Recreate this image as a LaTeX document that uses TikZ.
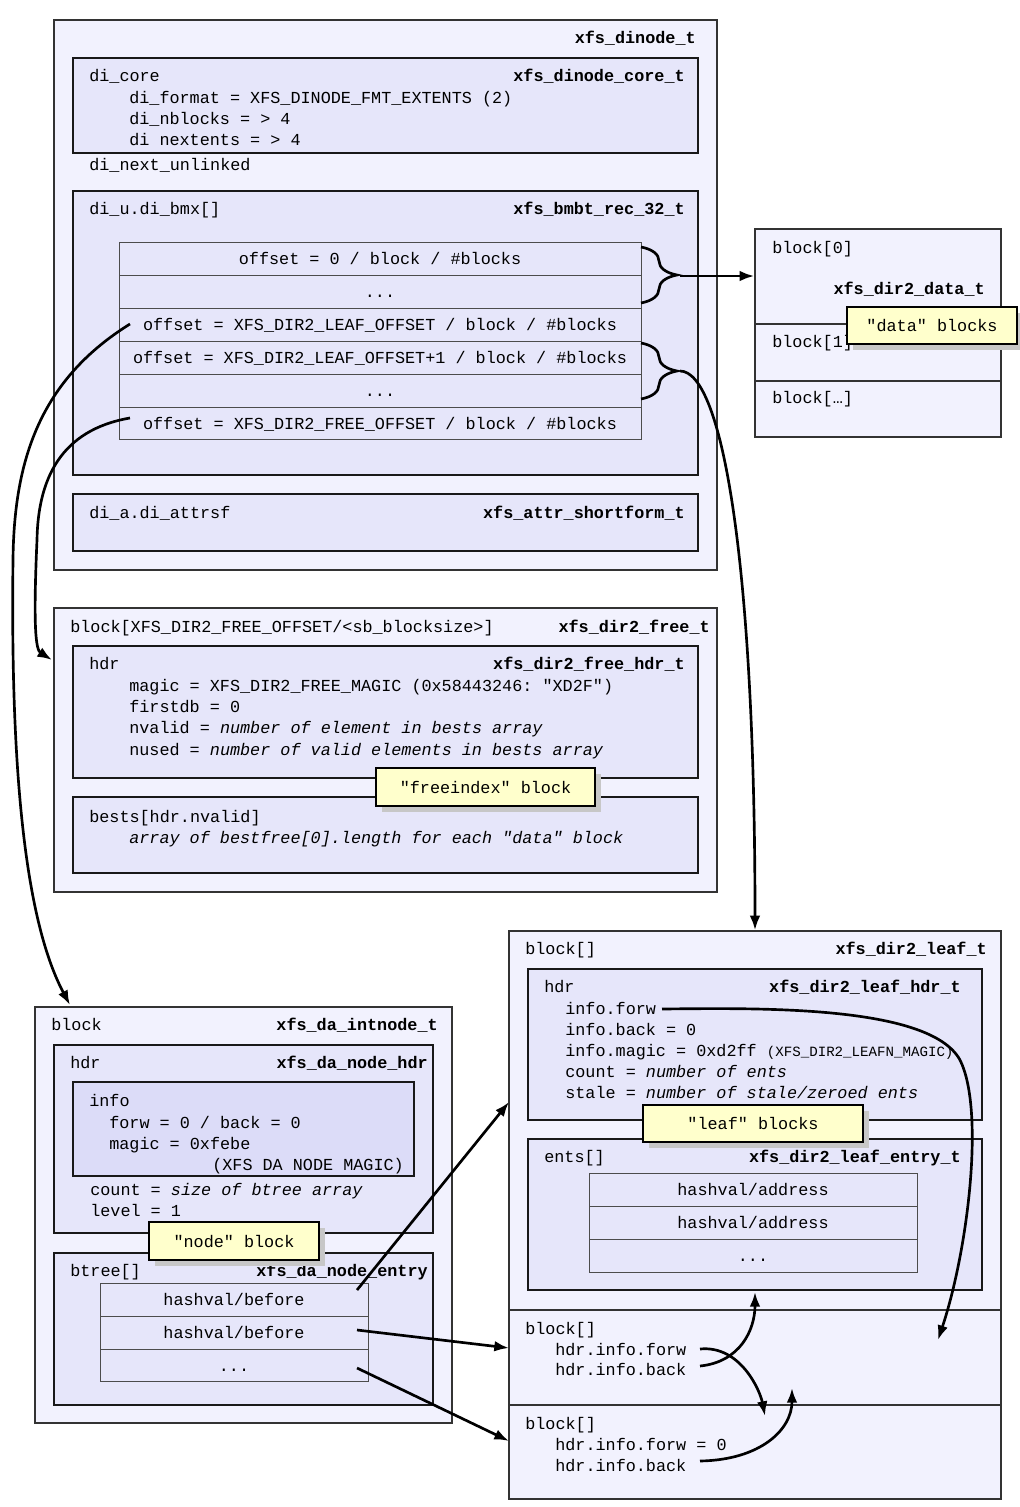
\documentclass[tikz,border=0pt]{standalone}
\usepackage{fontspec}
\setmonofont{Liberation Mono}
\usetikzlibrary{fit,arrows.meta,decorations.pathreplacing}

\definecolor{outerfill}{RGB}{242,242,254}
\definecolor{innerfill}{RGB}{230,230,250}
\definecolor{infofill}{RGB}{220,220,248}
\definecolor{notefill}{RGB}{255,255,204}
\newcommand\fieldfont{\ttfamily\fontsize{12.6}{15}\selectfont}
\newcommand\smallfield{\fontsize{10.6}{12}\selectfont}

\tikzset{
  outerbox/.style={draw=black!80,fill=outerfill,line width=1.1pt,inner sep=0pt},
  innerbox/.style={draw=black!90,fill=innerfill,line width=1.4pt,inner sep=0pt},
  infobox/.style={innerbox,fill=infofill},
  rowbox/.style={draw=black!70,fill=innerfill,line width=0.7pt,inner sep=0pt},
  field/.style={anchor=west,inner sep=0pt,font=\fieldfont,text height=9.5pt,text depth=0pt},
  typename/.style={anchor=east,inner sep=0pt,font=\fieldfont\bfseries,text height=9.5pt,text depth=0pt},
  celltext/.style={anchor=center,inner sep=0pt,font=\fieldfont,text height=9.5pt,text depth=0pt},
  notebox/.style={draw=black,fill=notefill,line width=1.1pt,inner sep=0pt},
  noteshadow/.style={fill=black!22,draw=none,inner sep=0pt},
  link/.style={line width=2pt,-{Latex[length=11pt,width=8pt]}},
  bracket/.style={line width=2pt,decorate,decoration={brace,amplitude=27pt}}
}

\begin{document}
\begin{tikzpicture}[x=0.75pt,y=0.75pt,yscale=-1,xscale=1]
	\useasboundingbox (0,0) rectangle (1020,1507);
	
	% xfs_dinode_t
	\node [outerbox, fit={(54,20) (717,570)}] (dinode) {};
	\node [typename] (dinodeT) at (696,37) {xfs\_dinode\_t};
	\node [innerbox, fit={(73,58) (698,153)}] (core) {};
	\node [field] (coreN) at (89,75) {di\_core};
	\node [typename] (coreT) at (685,75) {xfs\_dinode\_core\_t};
	\node [field] (fmt) at (129,97) {di\_format = XFS\_DINODE\_FMT\_EXTENTS (2)};
	\node [field] (nblocks) at (129,118) {di\_nblocks = > 4};
	\node [field] (nextents) at (129,139) {di nextents = > 4};
	\node [field] (unlinked) at (89,164) {di\_next\_unlinked};
	
	\node [innerbox, fit={(73,191) (698,475)}] (bmx) {};
	\node [field] (bmxN) at (89,208) {di\_u.di\_bmx[]};
	\node [typename] (bmxT) at (685,208) {xfs\_bmbt\_rec\_32\_t};
	\node [rowbox, fit={(119,242) (641,275)}] (rowA) {};
	\node [rowbox, fit={(119,275) (641,308)}] (rowB) {};
	\node [rowbox, fit={(119,308) (641,341)}] (rowC) {};
	\node [rowbox, fit={(119,341) (641,374)}] (rowD) {};
	\node [rowbox, fit={(119,374) (641,407)}] (rowE) {};
	\node [rowbox, fit={(119,407) (641,439)}] (rowF) {};
	\node [celltext] (rowAt) at (rowA) {offset = 0 / block / \#blocks};
	\node [celltext] (rowBt) at (rowB) {...};
	\node [celltext] (rowCt) at (rowC) {offset = XFS\_DIR2\_LEAF\_OFFSET / block / \#blocks};
	\node [celltext] (rowDt) at (rowD) {offset = XFS\_DIR2\_LEAF\_OFFSET+1 / block / \#blocks};
	\node [celltext] (rowEt) at (rowE) {...};
	\node [celltext] (rowFt) at (rowF) {offset = XFS\_DIR2\_FREE\_OFFSET / block / \#blocks};
	
	\node [innerbox, fit={(73,494) (698,551)}] (attr) {};
	\node [field] (attrN) at (89,512) {di\_a.di\_attrsf};
	\node [typename] (attrT) at (685,512) {xfs\_attr\_shortform\_t};
	
	% data blocks
	\node [outerbox, fit={(755,229) (1001,324)}] (data0) {};
	\node [outerbox, fit={(755,324) (1001,381)}] (data1) {};
	\node [outerbox, fit={(755,381) (1001,437)}] (data2) {};
	\node [field] (data0N) at (772,247) {block[0]};
	\node [typename] (dataT) at (985,288) {xfs\_dir2\_data\_t};
	\node [field] (data1N) at (772,341) {block[1]};
	\node [field] (data2N) at (772,397) {block[…]};
	\node [noteshadow, fit={(853,313) (1020,350)}] (dataS) {};
	\node [notebox, fit={(847,307) (1017,344)}] (dataNote) {};
	\node [celltext] (dataNotet) at (dataNote) {"data" blocks};
	
	% xfs_dir2_free_t
	\node [outerbox, fit={(54,608) (717,892)}] (free) {};
	\node [field] (freeN) at (70,626) {block[XFS\_DIR2\_FREE\_OFFSET/<sb\_blocksize>]};
	\node [typename] (freeT) at (710,626) {xfs\_dir2\_free\_t};
	\node [innerbox, fit={(73,646) (698,778)}] (freehdr) {};
	\node [field] (freehdrN) at (89,663) {hdr};
	\node [typename] (freehdrT) at (685,663) {xfs\_dir2\_free\_hdr\_t};
	\node [field] (fmagic) at (129,685) {magic = XFS\_DIR2\_FREE\_MAGIC (0x58443246: "XD2F")};
	\node [field] (firstdb) at (129,706) {firstdb = 0};
	\node [field] (nvalid) at (129,727) {nvalid = \textit{number of element in bests array}};
	\node [field] (nused) at (129,749) {nused = \textit{number of valid elements in bests array}};
	\node [innerbox, fit={(73,797) (698,873)}] (bests) {};
	\node [field] (bestsN) at (89,816) {bests[hdr.nvalid]};
	\node [field] (bestsD) at (129,837) {\textit{array of bestfree[0].length for each "data" block}};
	\node [noteshadow, fit={(382,774) (601,812)}] (freeS) {};
	\node [notebox, fit={(376,768) (595,806)}] (freeNote) {};
	\node [celltext] (freeNotet) at (freeNote) {"freeindex" block};
	
	% xfs_da_intnode_t
	\node [outerbox, fit={(35,1007) (452,1423)}] (intnode) {};
	\node [field] (intnodeN) at (51,1024) {block};
	\node [typename] (intnodeT) at (438,1024) {xfs\_da\_intnode\_t};
	\node [innerbox, fit={(54,1045) (433,1233)}] (nodehdr) {};
	\node [field] (nodehdrN) at (70,1062) {hdr};
	\node [typename] (nodehdrT) at (428,1062) {xfs\_da\_node\_hdr};
	\node [infobox, fit={(73,1082) (414,1176)}] (info) {};
	\node [field] (infoN) at (89,1100) {info};
	\node [field] (forwback) at (109,1122) {forw = 0 / back = 0};
	\node [field] (nmagic) at (109,1143) {magic = 0xfebe};
	\node [field] (nmagicN) at (212,1164) {(XFS DA NODE MAGIC)};
	\node [field] (count) at (90,1189) {count = \textit{size of btree array}};
	\node [field] (level) at (90,1210) {level = 1};
	\node [innerbox, fit={(54,1253) (433,1405)}] (btree) {};
	\node [field] (btreeN) at (70,1270) {btree[]};
	\node [typename] (btreeT) at (428,1270) {xfs\_da\_node\_entry};
	\node [rowbox, fit={(100,1283) (368,1316)}] (bt1) {};
	\node [rowbox, fit={(100,1316) (368,1349)}] (bt2) {};
	\node [rowbox, fit={(100,1349) (368,1381)}] (bt3) {};
	\node [celltext] (bt1t) at (bt1) {hashval/before};
	\node [celltext] (bt2t) at (bt2) {hashval/before};
	\node [celltext] (bt3t) at (bt3) {...};
	\node [noteshadow, fit={(155,1228) (325,1266)}] (nodeS) {};
	\node [notebox, fit={(149,1222) (319,1260)}] (nodeNote) {};
	\node [celltext] (nodeNotet) at (nodeNote) {"node" block};
	
	% xfs_dir2_leaf_t
	\node [outerbox, fit={(509,931) (1001,1310)}] (leaf0) {};
	\node [outerbox, fit={(509,1310) (1001,1405)}] (leaf1) {};
	\node [outerbox, fit={(509,1405) (1001,1499)}] (leaf2) {};
	\node [field] (leaf0N) at (525,948) {block[]};
	\node [typename] (leafT) at (987,948) {xfs\_dir2\_leaf\_t};
	\node [innerbox, fit={(528,969) (982,1120)}] (leafhdr) {};
	\node [field] (leafhdrN) at (544,986) {hdr};
	\node [typename] (leafhdrT) at (961,986) {xfs\_dir2\_leaf\_hdr\_t};
	\node [field] (lforw) at (565,1008) {info.forw};
	\node [field] (lback) at (565,1029) {info.back = 0};
	\node [field] (lmagic) at (565,1050) {info.magic = 0xd2ff {\smallfield (XFS\_DIR2\_LEAFN\_MAGIC)}};
	\node [field] (lcount) at (565,1071) {count = \textit{number of ents}};
	\node [field] (lstale) at (565,1092) {stale = \textit{number of stale/zeroed ents}};
	\node [innerbox, fit={(528,1139) (982,1290)}] (ents) {};
	\node [field] (entsN) at (544,1156) {ents[]};
	\node [typename] (entsT) at (961,1156) {xfs\_dir2\_leaf\_entry\_t};
	\node [rowbox, fit={(589,1173) (917,1206)}] (ent1) {};
	\node [rowbox, fit={(589,1206) (917,1239)}] (ent2) {};
	\node [rowbox, fit={(589,1239) (917,1272)}] (ent3) {};
	\node [celltext] (ent1t) at (ent1) {hashval/address};
	\node [celltext] (ent2t) at (ent2) {hashval/address};
	\node [celltext] (ent3t) at (ent3) {...};
	\node [noteshadow, fit={(649,1111) (869,1148)}] (leafS) {};
	\node [notebox, fit={(643,1105) (863,1142)}] (leafNote) {};
	\node [celltext] (leafNotet) at (leafNote) {"leaf" blocks};
	\node [field] (leaf1N) at (525,1328) {block[]};
	\node [field] (l1forw) at (555,1349) {hdr.info.forw};
	\node [field] (l1back) at (555,1369) {hdr.info.back};
	\node [field] (leaf2N) at (525,1423) {block[]};
	\node [field] (l2forw) at (555,1444) {hdr.info.forw = 0};
	\node [field] (l2back) at (555,1465) {hdr.info.back};
	
	% braces and links
	\draw [bracket] (641,247) -- (641,303) coordinate[pos=0.5] (braceA);
	\draw [bracket] (641,343) -- (641,399) coordinate[pos=0.5] (braceB);
	\coordinate (dataTip) at (680,276);
	\coordinate (leafTip) at (680,371);
	\coordinate (leafOffL) at (130,324);
	\coordinate (freeOffL) at (130,418);
	\coordinate (intIn) at (70,1005);
	\coordinate (freeIn) at (52,660);
	\coordinate (lforwOut) at (662,1009);
	\coordinate (lforwIn) at (938,1340);
	\coordinate (bt1R) at (357,1290);
	\coordinate (bt2R) at (357,1330);
	\coordinate (bt3R) at (357,1368);
	\coordinate (hdrIn) at (509,1102);
	\coordinate (leaf1In) at (509,1348);
	\coordinate (leaf2In) at (509,1441);
	\coordinate (l1forwR) at (700,1349);
	\coordinate (l1backR) at (700,1366);
	\coordinate (l2backR) at (700,1461);
	\coordinate (l1forwIn) at (765,1416);
	\coordinate (l1backIn) at (755,1292);
	\coordinate (l2backIn) at (792,1388);
	
	\draw [link] (dataTip) -- (data0.west |- dataTip);
	\draw [link] (leafTip) .. controls (722,371) and (755,560) .. (leaf0.north);
	\draw [link] (leafOffL) .. controls (40,380) and (14,460) .. (13,560) .. controls (10,800) and (30,930) .. (intIn);
	\draw [link] (freeOffL) .. controls (60,430) and (38,480) .. (37,540) .. controls (33,630) and (36,650) .. (freeIn);
	\draw [link] (lforwOut) .. controls (760,1008) and (930,1005) .. (960,1060) .. controls (985,1110) and (968,1250) .. (lforwIn);
	\draw [link] (bt1R) -- (hdrIn);
	\draw [link] (bt2R) -- (leaf1In);
	\draw [link] (bt3R) -- (leaf2In);
	\draw [link] (l1forwR) .. controls (740,1345) and (760,1390) .. (l1forwIn);
	\draw [link] (l1backR) .. controls (740,1362) and (755,1330) .. (l1backIn);
	\draw [link] (l2backR) .. controls (760,1460) and (792,1430) .. (l2backIn);
	
\end{tikzpicture}
\end{document}
